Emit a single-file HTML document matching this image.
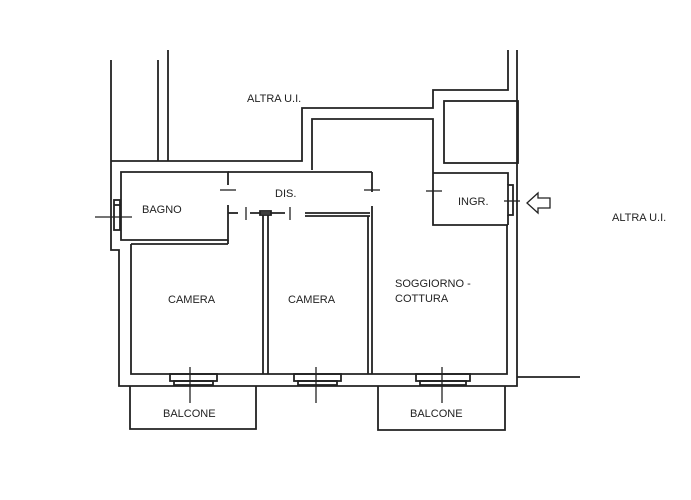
<!DOCTYPE html>
<html><head><style>
html,body{margin:0;padding:0;background:#fff;}
svg{display:block}
text{font-family:"Liberation Sans",sans-serif;font-size:11px;fill:#222;}
</style></head><body>
<svg width="691" height="500" viewBox="0 0 691 500" xmlns="http://www.w3.org/2000/svg">
<g fill="none" stroke="#222" stroke-width="1.8">
<!-- left outer -->
<polyline points="111,60 111,250 119,250 119,386 517,386 517,50"/>
<line x1="158" y1="60" x2="158" y2="161"/>
<line x1="168" y1="50" x2="168" y2="161"/>
<polyline points="111,161 302,161 302,108 433,108 433,90 508,90 508,50"/>
<!-- inner top -->
<polyline points="312,170 312,119 433,119 433,225 508,225"/>
<rect x="444" y="101" width="74" height="62"/>
<!-- bagno -->
<polyline points="228,185 228,172 121,172 121,240 228,240 228,205"/>
<line x1="121" y1="205" x2="114" y2="205"/>
<rect x="114" y="200" width="6" height="30"/>
<!-- dis -->
<line x1="228" y1="172" x2="372" y2="172"/>
<polyline points="228,213 238,213"/>
<line x1="250" y1="213" x2="285" y2="213"/>
<line x1="305" y1="213" x2="370" y2="213"/>
<line x1="305" y1="216" x2="370" y2="216"/>
<!-- cameras -->
<polyline points="131,244 131,374 507,374 507,225"/>
<line x1="131" y1="244" x2="228" y2="244"/>
<line x1="228" y1="240" x2="228" y2="244"/>
<line x1="263" y1="215" x2="263" y2="374"/>
<line x1="268" y1="215" x2="268" y2="374"/>
<rect x="260" y="211" width="11" height="4"/>
<line x1="368" y1="216" x2="368" y2="374"/>
<line x1="372" y1="172" x2="372" y2="192"/>
<line x1="372" y1="206" x2="372" y2="374"/>
<!-- ingr -->
<polyline points="433,173 508,173 508,185"/>
<line x1="508" y1="215" x2="508" y2="225"/>
<rect x="508" y="185" width="5" height="30"/>
<!-- windows -->
<rect x="170" y="374" width="47" height="7"/><rect x="174" y="381" width="39" height="4"/>
<rect x="294" y="374" width="47" height="7"/><rect x="298" y="381" width="39" height="4"/>
<rect x="416" y="374" width="54" height="7"/><rect x="420" y="381" width="46" height="4"/>
<!-- balconies -->
<polyline points="130,386 130,429 256,429 256,386"/>
<polyline points="378,386 378,430 505,430 505,386"/>
<line x1="517" y1="377" x2="580" y2="377"/>
</g>
<g stroke="#222" stroke-width="1.3">
<line x1="190" y1="367" x2="190" y2="403"/>
<line x1="316" y1="367" x2="316" y2="403"/>
<line x1="442" y1="367" x2="442" y2="403"/>
<line x1="95" y1="217" x2="132" y2="217"/>
<line x1="220" y1="190" x2="236" y2="190"/>
<line x1="364" y1="190" x2="380" y2="190"/>
<line x1="246" y1="207" x2="246" y2="220"/>
<line x1="290" y1="207" x2="290" y2="220"/>
<line x1="426" y1="191" x2="442" y2="191"/>
<line x1="504" y1="201" x2="520" y2="201"/>
</g>
<path d="M527,203 L538,193 L538,198 L550,198 L550,208 L538,208 L538,213 Z" fill="none" stroke="#222" stroke-width="1.3"/>
<text x="247" y="102">ALTRA U.I.</text>
<text x="612" y="221">ALTRA U.I.</text>
<text x="275" y="197">DIS.</text>
<text x="142" y="213">BAGNO</text>
<text x="458" y="205">INGR.</text>
<text x="168" y="303">CAMERA</text>
<text x="288" y="303">CAMERA</text>
<text x="395" y="287">SOGGIORNO -</text>
<text x="395" y="302">COTTURA</text>
<text x="163" y="417">BALCONE</text>
<text x="410" y="417">BALCONE</text>
</svg>
</body></html>
